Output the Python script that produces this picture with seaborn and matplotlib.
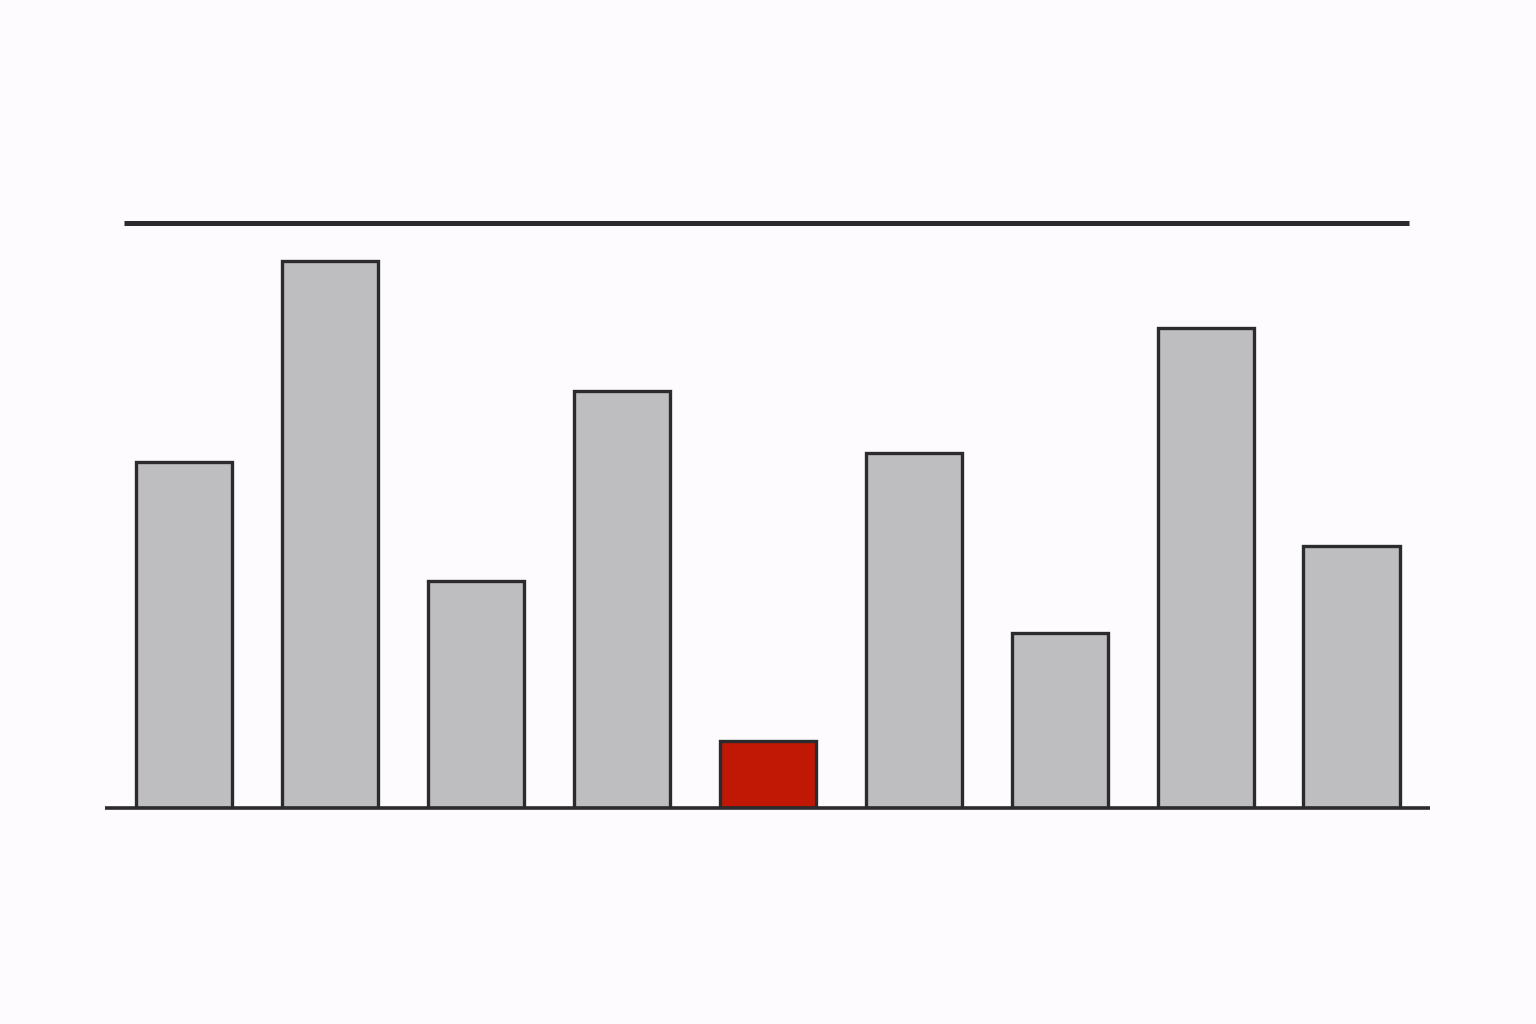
import matplotlib
matplotlib.use("Agg")
import matplotlib.pyplot as plt
import seaborn as sns
import pandas as pd

categories = ["A", "B", "C", "D", "E", "F", "G", "H", "I"]
values = [59.1, 93.5, 38.8, 71.3, 11.5, 60.7, 29.9, 82.1, 44.8]
highlight = "E"
reference_level = 100.0

bg = "#FDFBFD"
gray = "#BEBDC0"
red = "#C01804"
edge = "#2B2A2D"

df = pd.DataFrame({"cat": categories, "val": values})
palette = {c: (red if c == highlight else gray) for c in categories}

sns.set_theme(style="white")
fig = plt.figure(figsize=(15.36, 10.24), dpi=100, facecolor=bg)
ax = fig.add_axes([105 / 1536, (1024 - 808) / 1024, (1430 - 105) / 1536, (808 - 200) / 1024])
ax.set_facecolor(bg)

sns.barplot(data=df, x="cat", y="val", hue="cat", palette=palette, legend=False,
            width=0.66, edgecolor=edge, linewidth=2.4, ax=ax, saturation=1)

ax.set_xlim(-0.543, 8.537)
ax.set_ylim(0, (808 - 200) / 585 * 100)
ax.hlines(reference_level, -0.41, 8.39, color=edge, linewidth=3.6, zorder=5)
ax.axhline(0, color=edge, linewidth=2.6, zorder=6, clip_on=False, solid_capstyle="butt")

for s in ax.spines.values():
    s.set_visible(False)
ax.set_xticks([])
ax.set_yticks([])
ax.set_xlabel("")
ax.set_ylabel("")

fig.savefig("out.png", dpi=100, facecolor=bg)
